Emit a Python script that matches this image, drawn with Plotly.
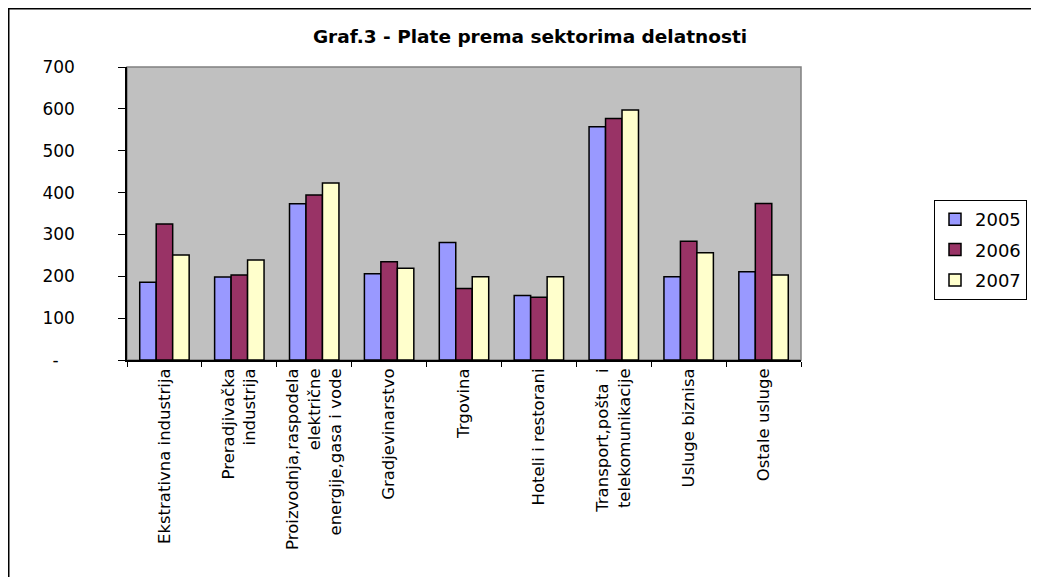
import plotly.graph_objects as go

categories = [
    "Ekstrativna industrija",
    "Preradjivačka<br>industrija",
    "Proizvodnja,raspodela<br>električne<br>energije,gasa i vode",
    "Gradjevinarstvo",
    "Trgovina",
    "Hoteli i restorani",
    "Transport,pošta  i<br>telekomunikacije",
    "Usluge biznisa",
    "Ostale usluge",
]
years = ["2005", "2006", "2007"]
v2005 = [186, 198, 373, 206, 281, 154, 557, 199, 211]
v2006 = [325, 203, 394, 235, 171, 150, 577, 284, 374]
v2007 = [251, 239, 423, 219, 199, 199, 597, 256, 203]
series = [v2005, v2006, v2007]
colors = ["#9999FF", "#993366", "#FFFFCC"]
ytickvals = [0, 100, 200, 300, 400, 500, 600, 700]
yticktext = ["-\u00a0\u00a0\u00a0", "100", "200", "300", "400", "500", "600", "700"]

OFF = 8  # page body margin
W, H = 1039 - OFF, 577 - OFF
L, R, T, B = 127 - OFF, 801 - OFF, 67 - OFF, 360 - OFF  # plot area in figure pixels

FONT = "DejaVu Sans, Liberation Sans, Arial, sans-serif"

fig = go.Figure()
for i, (name, vals) in enumerate(zip(years, series)):
    fig.add_trace(go.Bar(
        x=categories, y=vals, name=name,
        marker=dict(color=colors[i], line=dict(color="black", width=1.5)),
        legendgroup=name,
    ))

def px_x(x):
    return (x - OFF - L) / (R - L)

def px_y(y):
    return (B - (y - OFF)) / (B - T)

fig.update_layout(
    width=W, height=H,
    margin=dict(l=L, r=W - R, t=T, b=H - B, autoexpand=False),
    paper_bgcolor="white",
    plot_bgcolor="#C0C0C0",
    barmode="group", bargap=0.34, bargroupgap=0,
    font=dict(family=FONT, color="black", size=16),
    title=dict(text="<b>Graf.3 - Plate prema sektorima delatnosti</b>",
               x=(530 - OFF) / W, xanchor="center", y=1 - (37 - OFF) / H, yanchor="middle",
               font=dict(size=18.5)),
    legend=dict(x=px_x(1027), xanchor="right", y=px_y(200), yanchor="top",
                bordercolor="black", borderwidth=1, bgcolor="white",
                font=dict(size=18), tracegroupgap=4, itemwidth=30),
    showlegend=True,
    xaxis=dict(type="category", tickangle=-90, tickson="boundaries",
               ticks="outside", ticklen=5, tickcolor="black",
               showline=True, linecolor="black", linewidth=1.5,
               showgrid=False, tickfont=dict(size=16.5)),
    yaxis=dict(range=[0, 700], tickvals=ytickvals, ticktext=yticktext,
               ticks="outside", ticklen=7, tickcolor="black",
               ticklabelstandoff=40,
               showline=True, linecolor="black", linewidth=1.5,
               showgrid=False, zeroline=False, tickfont=dict(size=17)),
    shapes=[
        dict(type="rect", xref="paper", yref="paper", x0=0, x1=1, y0=0, y1=1,
             line=dict(color="#808080", width=1.5), layer="below"),
        dict(type="rect", xref="paper", yref="paper",
             x0=px_x(8.75), x1=px_x(1050), y0=px_y(8.75), y1=px_y(600),
             line=dict(color="black", width=1.5)),
    ],
)

fig.write_html("out.html")
